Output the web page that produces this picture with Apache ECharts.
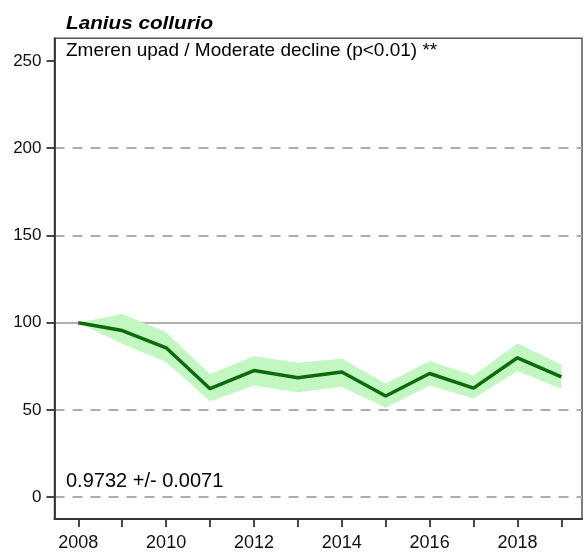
<!DOCTYPE html>
<html><head><meta charset="utf-8">
<script src="https://cdn.jsdelivr.net/npm/echarts@6/dist/echarts.min.js"></script>
<style>html,body{margin:0;padding:0;background:#fff}#c{width:585px;height:552px}</style>
</head><body><div id="c"></div>
<script>
var years = [2008,2009,2010,2011,2012,2013,2014,2015,2016,2017,2018,2019];
var index = [100,95.5,85.6,62.2,72.6,68.5,71.7,58.0,70.9,62.5,79.9,69.0];
var upper = [100,105,94.6,70.4,80.8,77,79.3,65.2,78,69.8,88.1,76];
var lower = [100,88,77.5,55,64,60.2,63.3,51.3,64,56.5,72.3,62.2];
var yTicks = [0,50,100,150,200,250];
var xTicks = [2008,2009,2010,2011,2012,2013,2014,2015,2016,2017,2018,2019];
var xLabels = [2008,2010,2012,2014,2016,2018];
var dashedLines = [0,50,150,200];
var baseLine = 100;
var titleText = 'Lanius collurio';
var trendText = 'Zmeren upad / Moderate decline (p<0.01) **';
var slopeText = '0.9732 +/- 0.0071';

var chart = echarts.init(document.getElementById('c'));
var font = '"Liberation Sans", Arial, sans-serif';
var bandPts = [];
years.forEach(function(y,i){ bandPts.push([y, upper[i]]); });
for (var i = years.length-1; i>=0; i--) bandPts.push([years[i], lower[i]]);

var ml = dashedLines.map(function(v){ return {yAxis:v, lineStyle:{type:[10,8], color:'#adadad', width:2}}; });
ml.push({yAxis: baseLine, lineStyle:{type:'solid', color:'#999', width:1.5}});

chart.setOption({
  animation:false,
  grid:{left:54.5, top:38.3, right:3, bottom:32, show:true, borderColor:'#555', borderWidth:1.5, containLabel:false},
  xAxis:{type:'value', min:2007.458, max:2019.47,
    axisLine:{show:true, onZero:false, lineStyle:{color:'#333', width:1.8}},
    axisTick:{show:true, length:8, lineStyle:{color:'#333', width:1.8}, customValues:xTicks},
    axisLabel:{customValues:xLabels, color:'#111', fontSize:18, fontFamily:font, margin:15, formatter:function(v){return String(v);}},
    splitLine:{show:false}},
  yAxis:{type:'value', min:-12.5, max:263,
    axisLine:{show:true, onZero:false, lineStyle:{color:'#333', width:1.8}},
    axisTick:{show:true, length:8, lineStyle:{color:'#333', width:1.8}, customValues:yTicks},
    axisLabel:{customValues:yTicks, color:'#111', fontSize:17, fontFamily:font, margin:13},
    splitLine:{show:false}},
  graphic:[
    {type:'text', x:66, y:15, scaleX:1.15, style:{text:titleText, font:'italic bold 18px '+font, fill:'#000'}},
    {type:'text', x:66, y:41, style:{text:trendText, font:'19px '+font, fill:'#000'}},
    {type:'text', x:66, y:471, style:{text:slopeText, font:'20px '+font, fill:'#000'}}
  ],
  series:[
    {type:'custom', silent:true, z:1,
     data:[0],
     renderItem:function(params, api){
       var pts = bandPts.map(function(p){ return api.coord(p); });
       return {type:'polygon', shape:{points:pts}, style:{fill:'#c2f7c2', stroke:null}};
     }},
    {type:'line', z:3, data:years.map(function(y,i){return [y,index[i]];}), showSymbol:false,
     lineStyle:{color:'#0b6a0b', width:3.5},
     markLine:{silent:true, symbol:'none', label:{show:false}, data:ml, z:0}}
  ]
});
</script></body></html>
